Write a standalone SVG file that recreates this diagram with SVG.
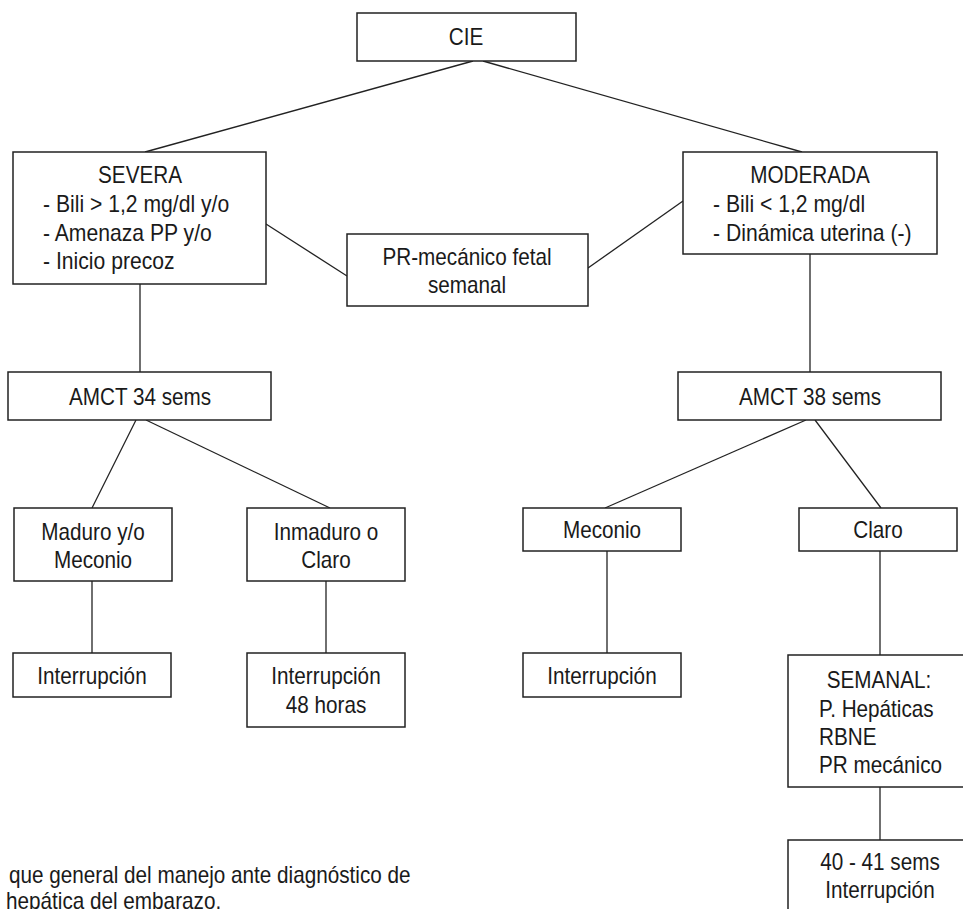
<svg xmlns="http://www.w3.org/2000/svg" width="963" height="909" viewBox="0 0 963 909">
<style>
.box{fill:#fff;stroke:#222;stroke-width:1.5}
.ln{stroke:#222;stroke-width:1.3;fill:none}
text{font-family:"Liberation Sans",Arial,sans-serif;font-size:23px;fill:#1a1a1a}
.c{text-anchor:middle}
</style>
<rect width="963" height="909" fill="#fff"/>
<g id="connectors">
<line class="ln" x1="473" y1="61" x2="145" y2="152"/>
<line class="ln" x1="483" y1="61" x2="802" y2="152"/>
<line class="ln" x1="266" y1="224" x2="347" y2="276"/>
<line class="ln" x1="683" y1="201" x2="588" y2="268"/>
<line class="ln" x1="140" y1="284" x2="140" y2="372"/>
<line class="ln" x1="810" y1="254" x2="810" y2="372"/>
<line class="ln" x1="136" y1="420" x2="92" y2="508"/>
<line class="ln" x1="146" y1="420" x2="330" y2="508"/>
<line class="ln" x1="806" y1="420" x2="605" y2="508"/>
<line class="ln" x1="815" y1="420" x2="881" y2="508"/>
<line class="ln" x1="92" y1="581" x2="92" y2="653"/>
<line class="ln" x1="326" y1="581" x2="326" y2="653"/>
<line class="ln" x1="607" y1="551" x2="607" y2="653"/>
<line class="ln" x1="880" y1="551" x2="880" y2="655"/>
<line class="ln" x1="880" y1="787" x2="880" y2="840"/>
</g>
<g id="cie">
<rect class="box" x="357" y="13" width="219" height="48"/>
<text class="c" transform="translate(466 45) scale(.9 1)">CIE</text>
</g>
<g id="severa">
<rect class="box" x="13" y="152" width="253" height="132"/>
<text class="c" transform="translate(140 183) scale(.9 1)">SEVERA</text>
<text transform="translate(43 212) scale(.92 1)">- Bili &gt; 1,2 mg/dl y/o</text>
<text transform="translate(43 241) scale(.92 1)">- Amenaza PP y/o</text>
<text transform="translate(43 269) scale(.92 1)">- Inicio precoz</text>
</g>
<g id="moderada">
<rect class="box" x="683" y="152" width="254" height="102"/>
<text class="c" transform="translate(810 183) scale(.9 1)">MODERADA</text>
<text transform="translate(713 212) scale(.92 1)">- Bili &lt; 1,2 mg/dl</text>
<text transform="translate(713 241) scale(.92 1)">- Dinámica uterina (-)</text>
</g>
<g id="prmecanico">
<rect class="box" x="347" y="234" width="241" height="72"/>
<text class="c" transform="translate(467 265) scale(.9 1)">PR-mecánico fetal</text>
<text class="c" transform="translate(467 293) scale(.9 1)">semanal</text>
</g>
<g id="amct34">
<rect class="box" x="8" y="372" width="263" height="48"/>
<text class="c" transform="translate(140 405) scale(.9 1)">AMCT 34 sems</text>
</g>
<g id="amct38">
<rect class="box" x="678" y="372" width="263" height="48"/>
<text class="c" transform="translate(810 405) scale(.9 1)">AMCT 38 sems</text>
</g>
<g id="maduro">
<rect class="box" x="14" y="508" width="158" height="73"/>
<text class="c" transform="translate(93 540) scale(.9 1)">Maduro y/o</text>
<text class="c" transform="translate(93 568) scale(.9 1)">Meconio</text>
</g>
<g id="inmaduro">
<rect class="box" x="247" y="508" width="158" height="73"/>
<text class="c" transform="translate(326 540) scale(.9 1)">Inmaduro o</text>
<text class="c" transform="translate(326 568) scale(.9 1)">Claro</text>
</g>
<g id="meconio">
<rect class="box" x="523" y="508" width="158" height="43"/>
<text class="c" transform="translate(602 538) scale(.9 1)">Meconio</text>
</g>
<g id="claro">
<rect class="box" x="799" y="508" width="158" height="43"/>
<text class="c" transform="translate(878 538) scale(.9 1)">Claro</text>
</g>
<g id="interrupcion1">
<rect class="box" x="13" y="653" width="158" height="44"/>
<text class="c" transform="translate(92 684) scale(.9 1)">Interrupción</text>
</g>
<g id="interrupcion48">
<rect class="box" x="247" y="653" width="158" height="74"/>
<text class="c" transform="translate(326 684) scale(.9 1)">Interrupción</text>
<text class="c" transform="translate(326 713) scale(.9 1)">48 horas</text>
</g>
<g id="interrupcion2">
<rect class="box" x="523" y="653" width="158" height="44"/>
<text class="c" transform="translate(602 684) scale(.9 1)">Interrupción</text>
</g>
<g id="semanal">
<rect class="box" x="788" y="655" width="184" height="132"/>
<text class="c" transform="translate(879 688) scale(.9 1)">SEMANAL:</text>
<text transform="translate(819 717) scale(.9 1)">P. Hepáticas</text>
<text transform="translate(819 745) scale(.9 1)">RBNE</text>
<text transform="translate(819 773) scale(.9 1)">PR mecánico</text>
</g>
<g id="final">
<rect class="box" x="788" y="840" width="184" height="80"/>
<text class="c" transform="translate(880 870) scale(.9 1)">40 - 41 sems</text>
<text class="c" transform="translate(880 898) scale(.9 1)">Interrupción</text>
</g>
<g id="caption">
<text transform="translate(9 883) scale(.9 1)">que general del manejo ante diagnóstico de</text>
<text transform="translate(6 909) scale(.9 1)">hepática del embarazo.</text>
</g>
</svg>
